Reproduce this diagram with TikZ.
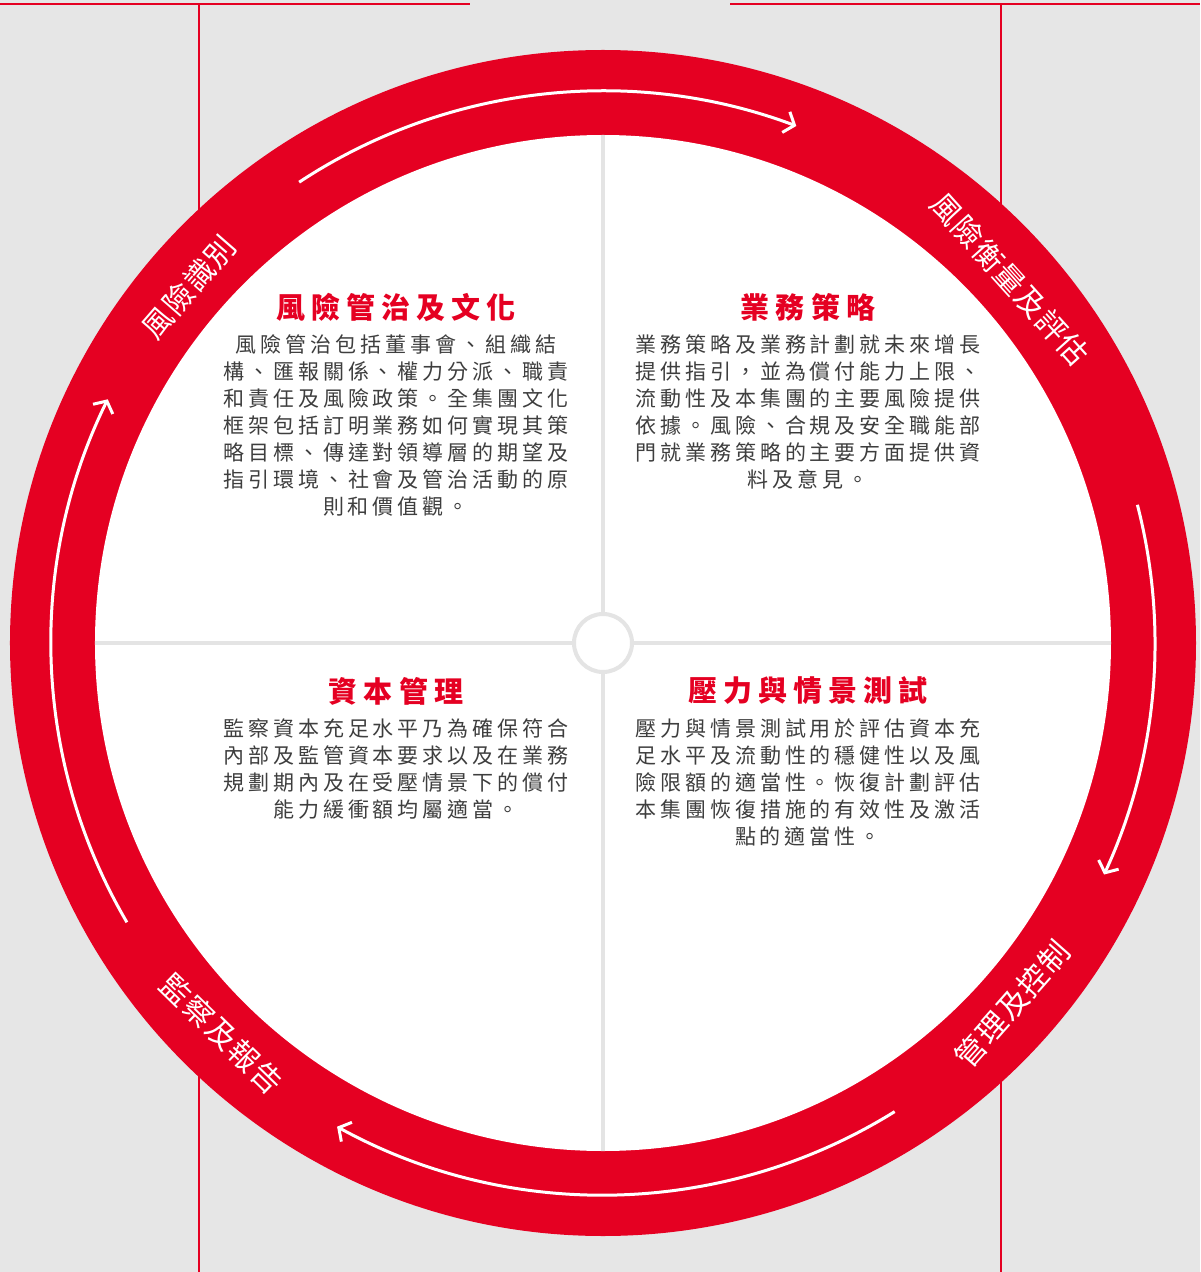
\documentclass[tikz,border=0pt]{standalone}
\usepackage{fontspec}
\usepackage{tikz}
\usetikzlibrary{arrows.meta,positioning}
\newfontfamily\cjkbody[LetterSpace=19]{Noto Sans CJK TC}
\newfontfamily\cjktitle[LetterSpace=21]{Noto Sans CJK TC}
\newfontfamily\cjkring[LetterSpace=5]{Noto Sans CJK TC}
\definecolor{ringred}{RGB}{229,0,34}
\definecolor{pagegrey}{RGB}{230,230,230}
\definecolor{crossgrey}{RGB}{228,228,228}
\definecolor{textgrey}{RGB}{62,62,62}
\tikzset{
  heading/.style={inner sep=0pt,text=ringred,font=\cjktitle\bfseries\fontsize{29}{32}\selectfont},
  bodytext/.style={inner sep=0pt,align=center,text=textgrey,font=\cjkbody\fontsize{21}{27}\selectfont},
  ringlabel/.style={inner sep=0pt,text=white,font=\cjkring\fontsize{30}{32}\selectfont},
  cycle arrow/.style={white,line width=3pt,-{Straight Barb[length=9pt,width=22pt,line width=3pt]}},
  guide line/.style={ringred,line width=1.2pt}
}
\begin{document}
\begin{tikzpicture}[x=1pt,y=1pt]
\fill [pagegrey] (-603,-629) rectangle (597,643);
\useasboundingbox (-603,-629) rectangle (597,643);
% guide lines behind the ring
\draw [guide line] (-404,-629)--(-404,639);
\draw [guide line] (398,-629)--(398,639);
\draw [guide line] (-603,639)--(-133,639);
\draw [guide line] (127,639)--(597,639);
% ring and disc
\fill [ringred] (0,0) circle(593);
\fill [white] (0,0) circle(508);
\draw [crossgrey,line width=4pt] (0,508)--(0,-508);
\draw [crossgrey,line width=4pt] (-508,0)--(508,0);
\draw [crossgrey,line width=4pt,fill=white] (0,0) circle(29);
% arrows on the ring
\draw [cycle arrow] (123.4:552) arc[start angle=123.4,end angle=69.5,radius=552];
\draw [cycle arrow] (14.5:552) arc[start angle=14.5,end angle=-24.8,radius=552];
\draw [cycle arrow] (-58.1:552) arc[start angle=-58.1,end angle=-118.8,radius=552];
\draw [cycle arrow] (-149.6:552) arc[start angle=-149.6,end angle=-206.2,radius=552];
% ring labels
\node [ringlabel,rotate=49] (identify) at (139.3:546) {風險識別};
\node [ringlabel,rotate=-48] (measure) at (41.8:546) {風險衡量及評估};
\node [ringlabel,rotate=48.6] (control) at (-41.4:546) {管理及控制};
\node [ringlabel,rotate=-44.3] (monitor) at (225.7:546) {監察及報告};
% quarter texts
\node [heading] (gov) at (-207,336) {風險管治及文化};
\node [bodytext,below=13pt of gov] (govtext) {風險管治包括董事會、組織結\\構、匯報關係、權力分派、職責\\和責任及風險政策。全集團文化\\框架包括訂明業務如何實現其策\\略目標、傳達對領導層的期望及\\指引環境、社會及管治活動的原\\則和價值觀。};
\node [heading] (strat) at (205,336) {業務策略};
\node [bodytext,below=13pt of strat] (strattext) {業務策略及業務計劃就未來增長\\提供指引，並為償付能力上限、\\流動性及本集團的主要風險提供\\依據。風險、合規及安全職能部\\門就業務策略的主要方面提供資\\料及意見。};
\node [heading] (capital) at (-207,-48) {資本管理};
\node [bodytext,below=13pt of capital] (capitaltext) {監察資本充足水平乃為確保符合\\內部及監管資本要求以及在業務\\規劃期內及在受壓情景下的償付\\能力緩衝額均屬適當。};
\node [heading] (stress) at (205,-48) {壓力與情景測試};
\node [bodytext,below=13pt of stress] (stresstext) {壓力與情景測試用於評估資本充\\足水平及流動性的穩健性以及風\\險限額的適當性。恢復計劃評估\\本集團恢復措施的有效性及激活\\點的適當性。};
\end{tikzpicture}
\end{document}
